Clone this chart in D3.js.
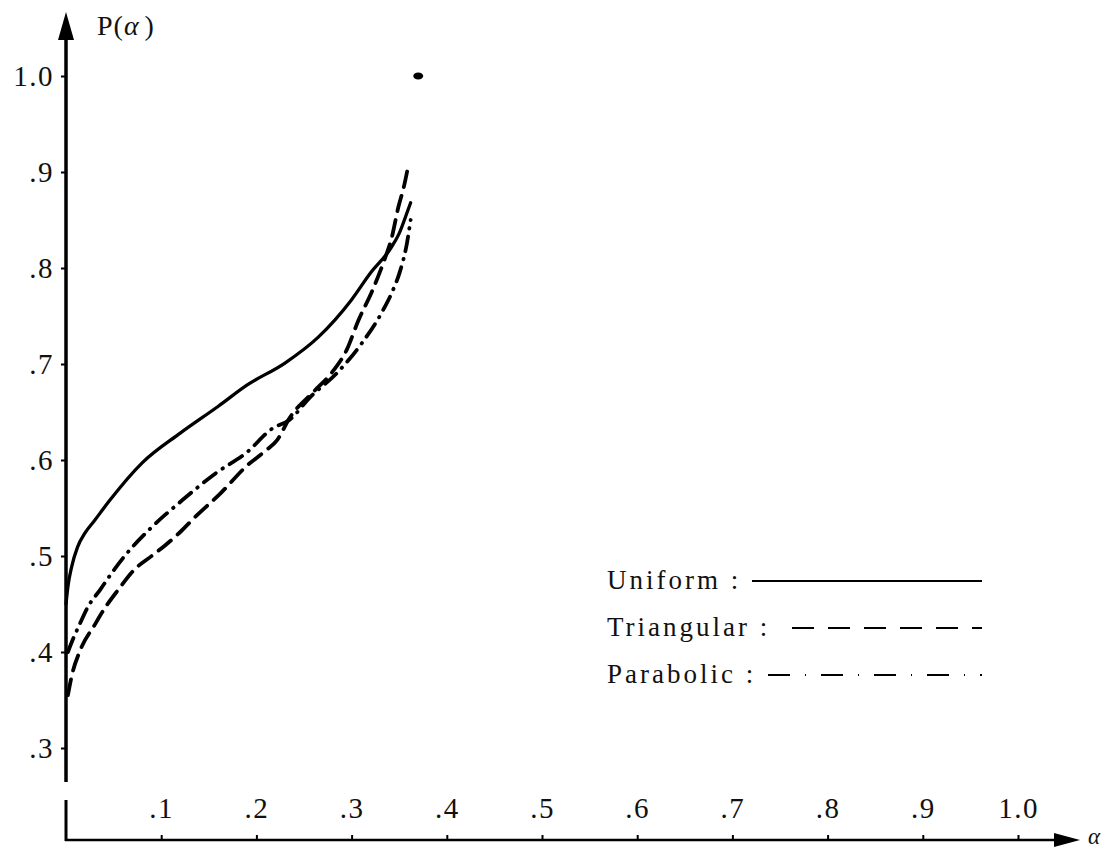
<!DOCTYPE html>
<html>
<head>
<meta charset="utf-8">
<script src="https://cdn.jsdelivr.net/npm/d3@7"></script>
<style>
  body { margin: 0; background: #fff; }
  text { font-family: "Liberation Serif", "DejaVu Serif", serif; fill: #111; }
</style>
</head>
<body>
<div id="chart"></div>
<script>
// P(alpha) curves for the three distributions

var w = 1111,
    h = 850;

// tick values
var xTicks = [0.1, 0.2, 0.3, 0.4, 0.5, 0.6, 0.7, 0.8, 0.9, 1.0];
var yTicks = [0.3, 0.4, 0.5, 0.6, 0.7, 0.8, 0.9, 1.0];

// Uniform (solid)
var uniformAlpha = [0, 0.002, 0.006, 0.012, 0.02, 0.03, 0.046, 0.08, 0.12, 0.16, 0.19, 0.23, 0.265, 0.3, 0.32, 0.34, 0.35, 0.358, 0.362];
var uniformP     = [0.45, 0.468, 0.489, 0.509, 0.524, 0.537, 0.558, 0.597, 0.628, 0.656, 0.678, 0.701, 0.728, 0.767, 0.795, 0.819, 0.836, 0.857, 0.868];

// Triangular (dashed)
var triangAlpha = [0.002, 0.006, 0.015, 0.03, 0.041, 0.055, 0.072, 0.09, 0.104, 0.12, 0.135, 0.162, 0.19, 0.21, 0.222, 0.235, 0.26, 0.28, 0.295, 0.307, 0.322, 0.335, 0.342, 0.349, 0.355, 0.36];
var triangP     = [0.355, 0.375, 0.402, 0.428, 0.446, 0.465, 0.486, 0.5, 0.511, 0.525, 0.54, 0.565, 0.594, 0.61, 0.621, 0.644, 0.671, 0.692, 0.715, 0.745, 0.777, 0.81, 0.831, 0.863, 0.885, 0.909];

// Parabolic (dash-dot)
var parabAlpha = [0.002, 0.008, 0.013, 0.023, 0.036, 0.05, 0.06, 0.09, 0.122, 0.157, 0.19, 0.217, 0.235, 0.256, 0.285, 0.311, 0.333, 0.343, 0.351, 0.358, 0.362];
var parabP     = [0.40, 0.415, 0.426, 0.447, 0.465, 0.485, 0.498, 0.53, 0.558, 0.586, 0.608, 0.633, 0.642, 0.665, 0.691, 0.722, 0.756, 0.776, 0.797, 0.825, 0.85];

// lone dot near P = 1
var limitAlpha = [0.37];
var limitP = [1.0];

var seriesNames = ["Uniform", "Triangular", "Parabolic"];
var dashes = [null, "16,9", "15,8,0.5,8"];
var legendDashes = [null, "22,14", "22,15,1,15"];

var svg = d3.select("#chart")
            .append("svg")
            .attr("width", w)
            .attr("height", h);

var x = d3.scaleLinear().domain([0, 1]).range([66, 1018]);
var y = d3.scaleLinear().domain([0.3, 1.0]).range([748, 76]);

var axisY = 840;   // where the alpha axis sits (P about .2)

// y axis with a break near the bottom
svg.append("line")
   .attr("x1", x(0)).attr("x2", x(0))
   .attr("y1", 36).attr("y2", 782)
   .attr("stroke", "#000").attr("stroke-width", 3.5);
svg.append("line")
   .attr("x1", x(0)).attr("x2", x(0))
   .attr("y1", 800).attr("y2", axisY + 1)
   .attr("stroke", "#000").attr("stroke-width", 3);
svg.append("path")
   .attr("d", "M" + x(0) + ",12 L" + (x(0) - 8) + ",40 L" + (x(0) + 8) + ",40 Z")
   .attr("fill", "#000");

// x axis
svg.append("line")
   .attr("x1", x(0) - 1).attr("x2", 1058)
   .attr("y1", axisY).attr("y2", axisY)
   .attr("stroke", "#000").attr("stroke-width", 2.5);
svg.append("path")
   .attr("d", "M1080," + axisY + " L1054," + (axisY - 7) + " L1054," + (axisY + 7) + " Z")
   .attr("fill", "#000");

var fmt = function(d){ return d === 1 ? "1.0" : d3.format(".1f")(d).slice(1); };

var yAxis = d3.axisLeft(y)
              .tickValues(yTicks)
              .tickSize(5)
              .tickPadding(7)
              .tickFormat(fmt);

var gy = svg.append("g")
            .attr("transform", "translate(" + x(0) + ",0)")
            .call(yAxis);
gy.select(".domain").remove();
gy.selectAll("line").attr("stroke", "#000").attr("stroke-width", 2);
gy.selectAll("text")
  .attr("font-family", "Liberation Serif")
  .attr("font-size", "29px")
  .attr("letter-spacing", "1.5px")
  .attr("fill", "#111");

var xAxis = d3.axisTop(x)
              .tickValues(xTicks)
              .tickSize(5)
              .tickPadding(17)
              .tickFormat(fmt);

var gx = svg.append("g")
            .attr("transform", "translate(0," + axisY + ")")
            .call(xAxis);
gx.select(".domain").remove();
gx.selectAll("line").attr("stroke", "#000").attr("stroke-width", 2);
gx.selectAll("text")
  .attr("font-family", "Liberation Serif")
  .attr("font-size", "29px")
  .attr("letter-spacing", "1.5px")
  .attr("fill", "#111");

// axis titles
var pt = svg.append("text")
            .attr("x", 97)
            .attr("y", 35)
            .attr("font-size", "28px")
            .attr("letter-spacing", "1px");
pt.append("tspan").text("P(");
pt.append("tspan").attr("font-style", "italic").text("\u03B1");
pt.append("tspan").attr("dx", 5).text(")");

svg.append("text")
   .attr("x", 1088)
   .attr("y", 844)
   .attr("font-size", "23px")
   .attr("font-style", "italic")
   .text("\u03B1");

// curves
var series = [
  uniformAlpha.map(function(a, i){ return [a, uniformP[i]]; }),
  triangAlpha.map(function(a, i){ return [a, triangP[i]]; }),
  parabAlpha.map(function(a, i){ return [a, parabP[i]]; })
];

var line = d3.line()
             .x(function(d){ return x(d[0]); })
             .y(function(d){ return y(d[1]); })
             .curve(d3.curveMonotoneX);

svg.selectAll(".curve")
   .data(series)
   .enter()
   .append("path")
   .attr("class", "curve")
   .attr("d", line)
   .attr("fill", "none")
   .attr("stroke", "#000")
   .attr("stroke-width", function(d, i){ return i === 0 ? 3.3 : 3.8; })
   .attr("stroke-linecap", "round")
   .attr("stroke-dasharray", function(d, i){ return dashes[i]; });

svg.selectAll(".limit")
   .data(limitAlpha)
   .enter()
   .append("ellipse")
   .attr("class", "limit")
   .attr("cx", function(d){ return x(d); })
   .attr("cy", function(d, i){ return y(limitP[i]); })
   .attr("rx", 5)
   .attr("ry", 3.5)
   .attr("fill", "#000");

// legend
var legend = svg.selectAll(".legend")
                .data(seriesNames)
                .enter()
                .append("g")
                .attr("class", "legend")
                .attr("transform", function(d, i){ return "translate(0," + (580 + i * 47) + ")"; });

legend.append("text")
      .attr("x", 607)
      .attr("y", 9)
      .attr("font-size", "27px")
      .attr("letter-spacing", "3px")
      .text(function(d){ return d + " :"; });

legend.append("line")
      .attr("x1", function(d, i){ return [752, 792, 768][i]; })
      .attr("x2", 982)
      .attr("y1", 1).attr("y2", 1)
      .attr("stroke", "#000")
      .attr("stroke-width", 2)
      .attr("stroke-dasharray", function(d, i){ return legendDashes[i]; });
</script>
</body>
</html>
